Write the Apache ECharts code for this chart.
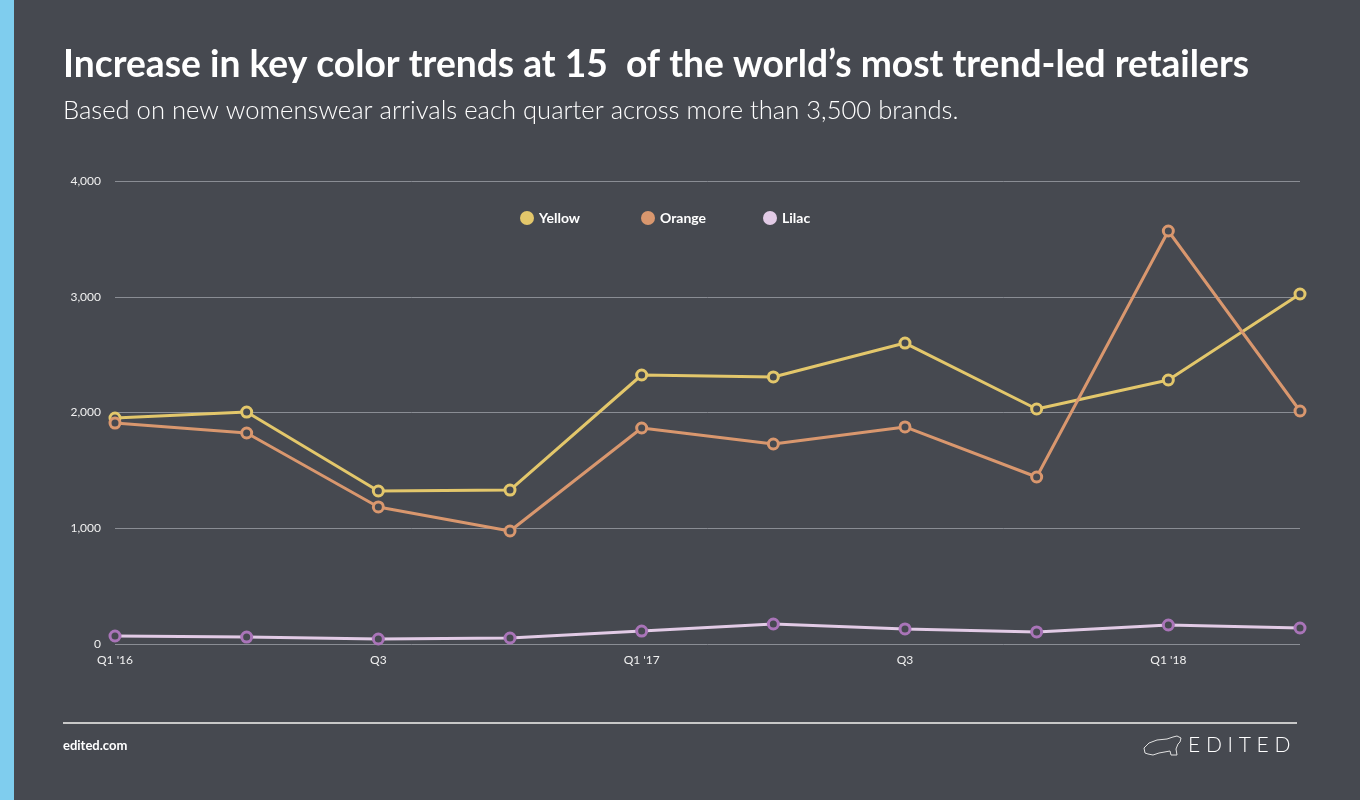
<!DOCTYPE html>
<html><head><meta charset="utf-8">
<script src="https://cdn.jsdelivr.net/npm/echarts@6/dist/echarts.min.js"></script>
<style>html,body{margin:0;padding:0;background:#464950;}#c{width:1360px;height:800px;}</style>
</head><body><div id="c"></div>
<script>
const categories = ["Q1 '16","Q2","Q3","Q4","Q1 '17","Q2","Q3","Q4","Q1 '18","Q2"];
const yellow = [1952, 2004, 1322, 1330, 2324, 2307, 2600, 2030, 2281, 3024];
const orange = [1909, 1823, 1184, 976, 1866, 1728, 1875, 1443, 3568, 2013];
const lilac  = [69, 60, 43, 52, 112, 173, 130, 104, 164, 138];
const yTicks = [0, 1000, 2000, 3000, 4000];

const BG = '#464950';
const chart = echarts.init(document.getElementById('c'));
function mk(name, data, lineColor, markColor){
  return {name, type:'line', data, symbol:'circle', symbolSize:10,
    lineStyle:{color:lineColor, width:3}, itemStyle:{color:BG, borderColor:markColor, borderWidth:3},
    color: lineColor, emphasis:{disabled:true}};
}
function lg(name, color, left){
  return {top:206, left, itemWidth:14, itemHeight:14, icon:'circle',
    textStyle:{color:'#ffffff', fontSize:14, fontWeight:'bold'},
    data:[{name, itemStyle:{color, borderWidth:0}}]};
}
chart.setOption({
  backgroundColor: BG,
  animation:false,
  textStyle:{fontFamily:'Lato'},
  title:[
    {text:'Increase in key color trends at 15  of the world\u2019s most trend-led retailers', left:58, top:42,
     textStyle:{color:'#ffffff', fontSize:37.2, fontWeight:'bold', fontFamily:'Lato'}},
    {text:'Based on new womenswear arrivals each quarter across more than 3,500 brands.', left:58, top:93,
     textStyle:{color:'#ffffff', fontSize:25.6, fontWeight:300, fontFamily:'Lato'}}
  ],
  legend:[lg('Yellow','#e3c76b',515), lg('Orange','#d9976e',636), lg('Lilac','#e2cbe6',758)],
  grid:{left:115, right:60, top:181, bottom:156},
  xAxis:{type:'category', data:categories, boundaryGap:false,
    axisLine:{show:false}, axisTick:{show:false},
    axisLabel:{color:'#f0f0f0', fontSize:12, interval:1, margin:10, fontFamily:'Lato'}},
  yAxis:{type:'value', min:0, max:4000, interval:1000,
    axisLine:{show:false}, axisTick:{show:false},
    splitLine:{lineStyle:{color:'#8a8d94', width:1}},
    axisLabel:{color:'#f0f0f0', fontSize:12, margin:14, fontFamily:'Lato',
      formatter:v=> yTicks.includes(v) ? v.toLocaleString('en-US') : ''}},
  series:[
    mk('Yellow', yellow, '#e3c76b', '#e3c76b'),
    mk('Orange', orange, '#d9976e', '#d9976e'),
    mk('Lilac', lilac, '#e2cbe6', '#a974b8')
  ],
  graphic:[
    {type:'rect', shape:{x:0,y:0,width:14,height:800}, style:{fill:'#7fcdee'}},
    {type:'line', shape:{x1:63,y1:723,x2:1297,y2:723}, style:{stroke:'#c8c8c8', lineWidth:2}},
    {type:'text', x:63, y:739, style:{text:'edited.com', fill:'#ffffff', font:'bold 13px Lato'}},
    {type:'text', x:1188, y:735, style:{text:'E D I T E D', fill:'#ffffff', font:'300 21px Lato'}},
    {type:'polyline', x:1143, y:733, shape:{points:[[2,20],[1,15],[6,10],[14,7],[24,6],[30,4],[34,3],[38,5],[37,9],[35,11],[33,16],[34,22],[28,22],[27,18],[16,20],[10,22],[5,21],[2,20]]},
     style:{fill:'none', stroke:'#e0e0e0', lineWidth:1}}
  ]
});
</script></body></html>
